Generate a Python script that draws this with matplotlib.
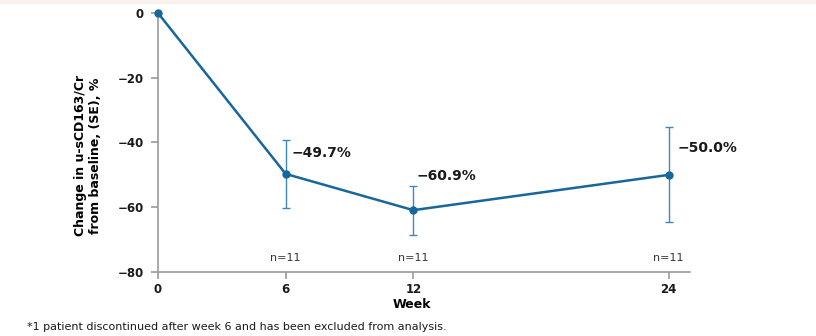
import matplotlib.pyplot as plt
import numpy as np

weeks = [0, 6, 12, 24]
change = [0, -49.7, -60.9, -50.0]
se = [0, 10.4, 7.6, 14.7]
value_labels = ['', '\u221249.7%', '\u221260.9%', '\u221250.0%']
n_weeks = [6, 12, 24]
n_labels = ['n=11', 'n=11', 'n=11']
yticks = [0, -20, -40, -60, -80]

line_col = '#17669c'
err_col = '#3f88bd'
axis_col = '#9a9a9a'

fig = plt.figure(figsize=(8.16, 3.36), dpi=100)
ax = fig.add_axes([0.1936, 0.1905, 0.652, 0.7708])

# thin cream strip along the top edge
fig.patches.append(plt.Rectangle((0, 0.991), 1, 0.009, transform=fig.transFigure,
                                 color='#f9f2ec', zorder=0))

ax.errorbar(weeks[1:], change[1:], yerr=se[1:], fmt='none', ecolor=err_col,
            elinewidth=1.0, capsize=3, capthick=1.0, zorder=2)
ax.plot(weeks, change, color=line_col, lw=1.8, marker='o', ms=5,
        mfc=line_col, mec=line_col, zorder=3, clip_on=False)

# label offsets in points from each data point
offsets = {6: (4, 15), 12: (2, 24.5), 24: (6, 19.5)}
for w, v, lab in zip(weeks, change, value_labels):
    if not lab:
        continue
    dx, dy = offsets[w]
    ax.annotate(lab, (w, v), xytext=(dx, dy), textcoords='offset points',
                fontsize=10, fontweight='bold', color='#1a1a1a', ha='left', va='center')

for w, lab in zip(n_weeks, n_labels):
    ax.text(w, -75.8, lab, fontsize=8, color='#333333', ha='center', va='center')

ax.set_xlim(0, 25)
ax.set_ylim(-80, 0)
ax.set_xticks(weeks)
ax.set_yticks(yticks)
ax.set_yticklabels([str(t).replace('-', '\u2212') for t in yticks])
for lbl in ax.get_xticklabels() + ax.get_yticklabels():
    lbl.set_fontweight('bold')
    lbl.set_fontsize(8.5)
    lbl.set_color('#1a1a1a')

for s in ['top', 'right']:
    ax.spines[s].set_visible(False)
for s in ['left', 'bottom']:
    ax.spines[s].set_color(axis_col)
    ax.spines[s].set_linewidth(1.2)
ax.tick_params(colors=axis_col, length=5, width=1.2, labelcolor='#1a1a1a')
ax.tick_params(axis='x', pad=3)
ax.tick_params(axis='y', pad=5)

ax.set_xlabel('Week', fontsize=9, fontweight='bold', va='center')
ax.xaxis.set_label_coords(0.477, -0.127)
ax.set_ylabel('Change in u-sCD163/Cr\nfrom baseline, (SE), %', fontsize=9,
              fontweight='bold')
ax.yaxis.set_label_coords(-0.105, 0.45)

fig.text(0.033, 0.012, '*1 patient discontinued after week 6 and has been excluded from analysis.',
         fontsize=8, color='#1a1a1a', ha='left', va='bottom')

fig.savefig('out.png', dpi=100)
